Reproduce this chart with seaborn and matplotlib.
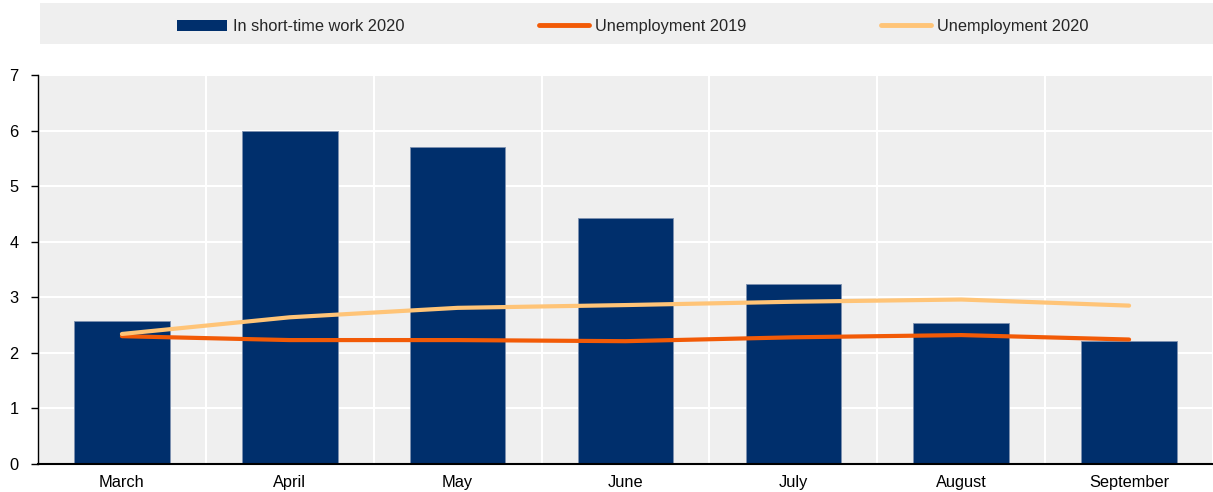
import numpy as np
import pandas as pd
import matplotlib
matplotlib.use("Agg")
import matplotlib.pyplot as plt
from matplotlib.patches import Rectangle
from matplotlib.ticker import FixedLocator
import seaborn as sns

months = ["March", "April", "May", "June", "July", "August", "September"]
short_time_2020 = [2.57, 6.0, 5.71, 4.42, 3.24, 2.54, 2.21]
unemp_2019 = [2.30, 2.23, 2.23, 2.21, 2.28, 2.32, 2.24]
unemp_2020 = [2.34, 2.64, 2.81, 2.86, 2.92, 2.96, 2.85]
yticks = [0, 1, 2, 3, 4, 5, 6, 7]

bar_color = "#002F6C"
c2019 = "#F25A06"
c2020 = "#FFC477"
bg = "#EFEFEF"

sns.set_theme(style="white")
plt.rcParams["font.family"] = ["Liberation Sans", "DejaVu Sans"]

fig = plt.figure(figsize=(12.13, 4.92), dpi=100)
W, H = 1213, 492
ax = fig.add_axes([38 / W, (H - 464) / H, (W - 38) / W, (464 - 75) / H])
ax.set_facecolor(bg)

df = pd.DataFrame({"month": months, "stw": short_time_2020})
sns.barplot(data=df, x="month", y="stw", color=bar_color, width=0.57,
            edgecolor="#7d91b0", linewidth=0.6, saturation=1, ax=ax, zorder=2)

xs = np.arange(len(months))
sns.lineplot(x=xs, y=unemp_2019, color=c2019, linewidth=3, ax=ax, zorder=3)
sns.lineplot(x=xs, y=unemp_2020, color=c2020, linewidth=3, ax=ax, zorder=3)

ax.set_xlim(-0.5, len(months) - 0.5)
ax.set_ylim(0, 7)
ax.set_yticks(yticks)
ax.set_yticklabels([str(v) for v in yticks])
ax.set_xticks(xs)
ax.set_xticklabels(months)
ax.xaxis.set_minor_locator(FixedLocator(np.arange(0.5, len(months), 1.0)))
ax.set_xlabel("")
ax.set_ylabel("")

ax.grid(False)
ax.yaxis.grid(True, color="white", linewidth=1.5, zorder=0)
ax.xaxis.grid(True, which="minor", color="white", linewidth=1.5, zorder=0)
ax.set_axisbelow(True)

for s in ["top", "right"]:
    ax.spines[s].set_visible(False)
ax.spines["left"].set_color("black")
ax.spines["left"].set_linewidth(1.0)
ax.spines["bottom"].set_color("black")
ax.spines["bottom"].set_linewidth(1.5)

ax.tick_params(axis="x", which="major", length=0, labelsize=11.8, pad=8, colors="black")
ax.tick_params(axis="x", which="minor", direction="in", length=5, width=1.2, color="black")
ax.tick_params(axis="y", which="major", direction="out", length=5, width=1, labelsize=11.8,
               color="black", labelcolor="black", pad=9, left=True)

# legend background
fig.patches.append(Rectangle((40 / W, 1 - 44 / H), (W - 40) / W, 41 / H,
                             transform=fig.transFigure, facecolor=bg, edgecolor="none", zorder=0))
handles = [
    Rectangle((0, 0), 1, 1, facecolor=bar_color, edgecolor="none"),
    plt.Line2D([0], [0], color=c2019, linewidth=3.5),
    plt.Line2D([0], [0], color=c2020, linewidth=3.5),
]
labels = ["In short-time work 2020", "Unemployment 2019", "Unemployment 2020"]
fig.legend(handles, labels, loc="center", bbox_to_anchor=(633 / W, 1 - 26.5 / H), ncol=3,
           frameon=False, fontsize=11.8, handlelength=3.05, handleheight=0.65,
           handletextpad=0.37, columnspacing=8.2)

fig.savefig("out.png", dpi=100)
